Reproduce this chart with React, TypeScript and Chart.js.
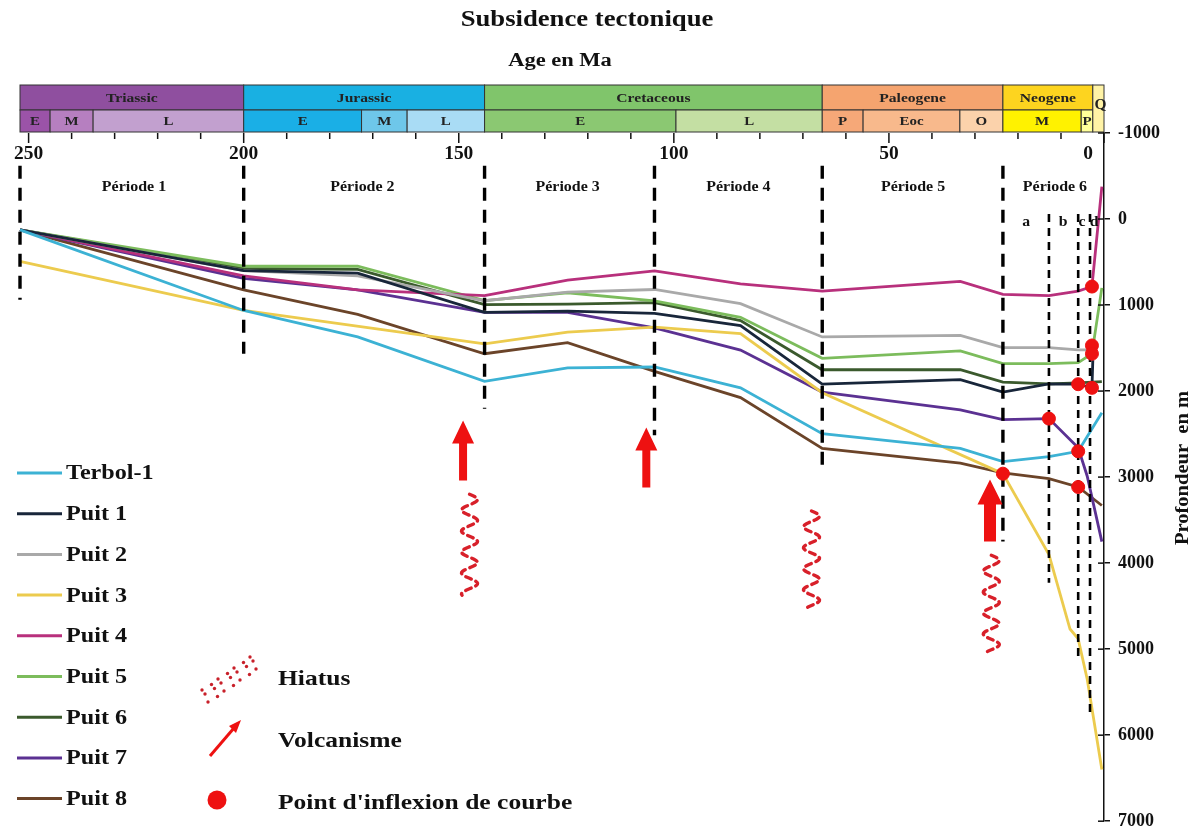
import React, { useEffect, useRef } from "react";
import { Chart, registerables } from "chart.js";
Chart.register(...registerables);

// ---------- data ----------
const ages = [252, 200, 173.5, 144, 124.7, 104.5, 84.5, 65.5, 33.4, 23.5, 12.8, 7.9, 6.0, 3.9, 2.8, 2.6, 0.5];
const seriesNames = ["Terbol-1", "Puit 1", "Puit 2", "Puit 3", "Puit 4", "Puit 5", "Puit 6", "Puit 7", "Puit 8"];
const terbol1 = [126, 1063, 1371, 1886, 1730, 1720, 1962, 2495, 2667, 2819, 2762, null, 2700, null, null, null, 2251];
const puit1 = [126, 600, 629, 1086, 1070, 1097, 1238, 1920, 1867, 2011, 1917, null, 1920, null, 1962, 1640, null];
const puit2 = [126, 600, 660, 950, 850, 819, 983, 1371, 1352, 1494, 1494, null, 1520, 1520, 1470, null, null];
const puit3 = [491, 1063, null, 1451, 1314, 1257, 1333, 2019, null, 2960, 3900, 4766, 4880, 5350, null, null, 6400];
const puit4 = [126, 660, 823, 891, 709, 602, 754, 838, 724, 876, 891, null, 838, null, 785, null, -377];
const puit5 = [126, 549, 549, 949, 857, 952, 1143, 1619, 1533, 1680, 1680, null, 1669, null, 1566, null, 800];
const puit6 = [126, 575, 585, 994, 990, 971, 1181, 1752, 1752, 1897, 1917, null, 1905, null, null, null, 1890];
const puit7 = [126, 690, 823, 1086, 1086, 1265, 1524, 2011, 2219, 2331, 2320, null, 2660, 2990, null, null, 3750];
const puit8 = [126, 823, 1109, 1566, 1437, 1771, 2076, 2667, 2838, 2950, 3017, null, 3115, null, null, null, 3330];
const seriesValues = [terbol1, puit1, puit2, puit3, puit4, puit5, puit6, puit7, puit8];
const seriesColors = ["#3cb2d4", "#18263a", "#a9a9a9", "#eccb4e", "#b8307c", "#7cbc5c", "#3b5a2d", "#5b3192", "#6b4429"];

// period boundaries (Ma) and dashed-line extents (m)
const periodAges = [252, 200, 144, 104.5, 65.5, 23.5];
const periodTop = -620;
const periodBottom = [937, 1566, 2206, 2514, 2880, 3749];
const periodLabels = ["Période 1", "Période 2", "Période 3", "Période 4", "Période 5", "Période 6"];
const periodLabelAges = [225.5, 172.4, 124.7, 85, 44.4, 11.4];
const periodLabelDepth = -366;

const subAges = [12.8, 6.0, 3.25];
const subTop = -57;
const subBottom = [4229, 5086, 5749];
const subLabels = ["a", "b", "c", "d"];
const subLabelAges = [18.1, 9.5, 5.1, 2.3];
const subLabelDepth = 40;

// inflection points
const inflexAges = [23.5, 12.8, 6.0, 6.0, 6.0, 2.8, 2.8, 2.8, 2.8];
const inflexDepths = [2960, 2320, 2700, 3115, 1920, 1962, 1470, 1566, 785];

// volcanism arrows and hiatus marks
const volcAges = [149, 106.4, 26.5];
const volcTipDepths = [2343, 2423, 3029];
const hiatusAges = [147.5, 68, 26.2];
const hiatusTop = [3200, 3394, 3909];
const hiatusBottom = [4377, 4549, 5063];

// geological time scale
const eraNames = ["Triassic", "Jurassic", "Cretaceous", "Paleogene", "Neogene"];
const eraStart = [252, 200, 144, 65.5, 23.5];
const eraEnd = [200, 144, 65.5, 23.5, 2.6];
const eraColors = ["#8f4f9f", "#19b0e2", "#80c56b", "#f5a46f", "#fdd41f"];
const epochNames = ["E", "M", "L", "E", "M", "L", "E", "L", "P", "Eoc", "O", "M", "P"];
const epochStart = [252, 245, 235, 200, 172.6, 162, 144, 99.5, 65.5, 56, 33.5, 23.5, 5.3];
const epochEnd = [245, 235, 200, 172.6, 162, 144, 99.5, 65.5, 56, 33.5, 23.5, 5.3, 2.6];
const epochColors = ["#9b53a8", "#b67fc0", "#c2a0cf", "#1aafe6", "#6ec7ea", "#a9dcf5", "#8bc872", "#c4dfa3", "#f6a878", "#f8b98c", "#fbd2ab", "#fff200", "#ffff99"];
const quatName = "Q";
const quatStart = 2.6;
const quatEnd = 0;
const quatColor = "#fff3a6";

const xTickLabels = [250, 200, 150, 100, 50, 0];
const xMinorStep = 10;

const FONT = '"Liberation Serif", "DejaVu Serif", serif';
const bf = (s: number) => `bold ${s}px ${FONT}`;

const overlay = {
  id: "overlay",
  beforeDraw(chart: any) {
    const { ctx, width, height } = chart;
    ctx.save();
    ctx.fillStyle = "#ffffff";
    ctx.fillRect(0, 0, width, height);
    ctx.restore();
  },
  afterDraw(chart: any) {
    const { ctx, chartArea: ca } = chart;
    const xs = chart.scales.x;
    const ys = chart.scales.y;
    const X = (a: number) => xs.getPixelForValue(a);
    const Y = (d: number) => ys.getPixelForValue(d);
    const txt = (s: string, x: number, y: number, size: number, sx: number, align: string = "center", color = "#111") => {
      ctx.save();
      ctx.translate(x, y);
      ctx.scale(sx, 1);
      ctx.font = bf(size);
      ctx.fillStyle = color;
      ctx.textAlign = align;
      ctx.textBaseline = "middle";
      ctx.fillText(s, 0, 0);
      ctx.restore();
    };
    ctx.save();

    // titles
    txt("Subsidence tectonique", 587, 20, 23, 1.16);
    txt("Age en Ma", 560, 61, 18, 1.25);

    // time scale band
    const t0 = ca.top - 48, t1 = ca.top - 23, t2 = ca.top - 1;
    ctx.lineWidth = 1;
    ctx.strokeStyle = "#333";
    eraNames.forEach((n, i) => {
      const a = X(eraStart[i]), b = X(eraEnd[i]);
      ctx.fillStyle = eraColors[i];
      ctx.fillRect(a, t0, b - a, t1 - t0);
      ctx.strokeRect(a, t0, b - a, t1 - t0);
      txt(n, (a + b) / 2, (t0 + t1) / 2 + 1, 13, 1.2, "center", "#222");
    });
    epochNames.forEach((n, i) => {
      const a = X(epochStart[i]), b = X(epochEnd[i]);
      ctx.fillStyle = epochColors[i];
      ctx.fillRect(a, t1, b - a, t2 - t1);
      ctx.strokeRect(a, t1, b - a, t2 - t1);
      txt(n, (a + b) / 2, (t1 + t2) / 2 + 1, 13, 1.15, "center", "#222");
    });
    {
      const a = X(quatStart), b = X(quatEnd);
      ctx.fillStyle = quatColor;
      ctx.fillRect(a, t0, b - a, t2 - t0);
      ctx.strokeRect(a, t0, b - a, t2 - t0);
      txt(quatName, (a + b) / 2 + 2, t0 + 20, 14, 1.1, "center", "#222");
    }

    // x ticks and labels
    ctx.strokeStyle = "#111";
    ctx.lineWidth = 1.5;
    for (let v = 250; v >= 0; v -= xMinorStep) {
      const px = X(v);
      const major = v % 50 === 0;
      ctx.beginPath();
      ctx.moveTo(px, ca.top);
      ctx.lineTo(px, ca.top + (major ? 10 : 6));
      ctx.stroke();
    }
    xTickLabels.forEach((v) => {
      txt(String(v), X(v) - (v === 0 ? 16 : 0), ca.top + 21, 18, 1.08);
    });

    // y inner ticks
    ctx.strokeStyle = "#111";
    ctx.lineWidth = 1.5;
    for (let v = -1000; v <= 7000; v += 1000) {
      ctx.beginPath();
      ctx.moveTo(ca.right - 6, Y(v));
      ctx.lineTo(ca.right, Y(v));
      ctx.stroke();
    }

    // period labels
    periodLabels.forEach((l, i) => txt(l, X(periodLabelAges[i]), Y(periodLabelDepth), 14, 1.14));
    subLabels.forEach((l, i) => txt(l, X(subLabelAges[i]), Y(subLabelDepth), 15, 1.05));

    // volcanism arrows
    const arrow = (cx: number, tip: number, hw: number, hh: number, sw: number, len: number) => {
      ctx.beginPath();
      ctx.moveTo(cx, tip);
      ctx.lineTo(cx + hw / 2, tip + hh);
      ctx.lineTo(cx + sw / 2, tip + hh);
      ctx.lineTo(cx + sw / 2, tip + len);
      ctx.lineTo(cx - sw / 2, tip + len);
      ctx.lineTo(cx - sw / 2, tip + hh);
      ctx.lineTo(cx - hw / 2, tip + hh);
      ctx.closePath();
      ctx.fill();
    };
    ctx.fillStyle = "#ee1111";
    volcAges.forEach((a, i) => {
      const big = i === 2;
      arrow(X(a), Y(volcTipDepths[i]), big ? 25 : 22, big ? 25 : 23, big ? 12 : 8, big ? 62 : 60);
    });

    // hiatus wavy marks
    ctx.strokeStyle = "#d8202a";
    ctx.lineWidth = 3.4;
    ctx.lineCap = "round";
    ctx.setLineDash([6, 5]);
    hiatusAges.forEach((a, i) => {
      const cx = X(a), y0 = Y(hiatusTop[i]), y1 = Y(hiatusBottom[i]);
      ctx.beginPath();
      for (let yy = y0; yy <= y1; yy += 1) {
        const px = cx + 8 * Math.sin(((yy - y0) / 21) * 2 * Math.PI);
        if (yy === y0) ctx.moveTo(px, yy);
        else ctx.lineTo(px, yy);
      }
      ctx.stroke();
    });
    ctx.setLineDash([]);
    ctx.lineCap = "butt";

    // series legend
    chart.data.datasets.slice(0, seriesNames.length).forEach((ds: any, i: number) => {
      const yy = 473 + i * 40.7;
      ctx.strokeStyle = ds.borderColor;
      ctx.lineWidth = 3;
      ctx.beginPath();
      ctx.moveTo(17, yy);
      ctx.lineTo(62, yy);
      ctx.stroke();
      txt(ds.label, 66, yy + 1, 21, 1.15, "left");
    });

    // symbols legend
    ctx.fillStyle = "#c8202a";
    for (let i = 0; i < 7; i++) {
      for (let j = 0; j < 3; j++) {
        const px = 202 + i * 8 + j * 3 + (i % 2) * 1.5;
        const py = 690 - i * 5.5 + j * 6 - (j % 2) * 2;
        ctx.beginPath();
        ctx.arc(px, py, 1.7, 0, Math.PI * 2);
        ctx.fill();
      }
    }
    ctx.strokeStyle = "#ee1111";
    ctx.fillStyle = "#ee1111";
    ctx.lineWidth = 3;
    ctx.beginPath();
    ctx.moveTo(210, 756);
    ctx.lineTo(234, 728);
    ctx.stroke();
    ctx.beginPath();
    ctx.moveTo(241, 720);
    ctx.lineTo(229, 726);
    ctx.lineTo(236, 733);
    ctx.closePath();
    ctx.fill();
    ctx.beginPath();
    ctx.arc(217, 800, 9.5, 0, Math.PI * 2);
    ctx.fill();

    txt("Hiatus", 278, 679, 22, 1.16, "left");
    txt("Volcanisme", 278, 741, 22, 1.16, "left");
    txt("Point d'inflexion de courbe", 278, 803, 22, 1.16, "left");

    // y title
    ctx.save();
    ctx.translate(1183, 468);
    ctx.rotate(-Math.PI / 2);
    ctx.scale(1.14, 1);
    ctx.textAlign = "center";
    ctx.textBaseline = "middle";
    ctx.fillStyle = "#111";
    ctx.font = bf(18);
    ctx.fillText("Profondeur  en m", 0, 0);
    ctx.restore();

    ctx.restore();
  },
};

export default function App() {
  const ref = useRef<HTMLCanvasElement | null>(null);
  useEffect(() => {
    if (!ref.current) return;
    const datasets: any[] = [];
    seriesNames.forEach((name, i) => {
      const pts: any[] = [];
      ages.forEach((a, k) => {
        const v = seriesValues[i][k];
        if (v !== null && v !== undefined) pts.push({ x: a, y: v });
      });
      datasets.push({
        type: "line",
        label: name,
        data: pts,
        borderColor: seriesColors[i],
        backgroundColor: seriesColors[i],
        borderWidth: 2.8,
        pointRadius: 0,
        tension: 0,
        clip: false,
        order: 3,
      });
    });
    periodAges.forEach((a, i) => {
      datasets.push({
        type: "line",
        label: "period",
        data: [{ x: a, y: periodTop }, { x: a, y: periodBottom[i] }],
        borderColor: "#000",
        borderWidth: 3.4,
        borderDash: [13, 9],
        pointRadius: 0,
        clip: false,
        order: 2,
      });
    });
    subAges.forEach((a, i) => {
      datasets.push({
        type: "line",
        label: "sub",
        data: [{ x: a, y: subTop }, { x: a, y: subBottom[i] }],
        borderColor: "#000",
        borderWidth: 2.6,
        borderDash: [8, 6],
        pointRadius: 0,
        clip: false,
        order: 2,
      });
    });
    datasets.push({
      type: "scatter",
      label: "inflexion",
      data: inflexAges.map((a, i) => ({ x: a, y: inflexDepths[i] })),
      backgroundColor: "#ee1111",
      borderColor: "#ee1111",
      pointRadius: 6.5,
      clip: false,
      order: 1,
    });

    const chart = new Chart(ref.current, {
      type: "line",
      data: { datasets },
      options: {
        animation: false,
        responsive: false,
        maintainAspectRatio: false,
        layout: { padding: { left: 20, right: 0, top: 133, bottom: 7 } },
        plugins: { legend: { display: false }, tooltip: { enabled: false }, title: { display: false } },
        scales: {
          x: { type: "linear", reverse: true, min: 0, max: 252, display: false },
          y: {
            type: "linear",
            position: "right",
            reverse: true,
            min: -1000,
            max: 7000,
            ticks: {
              stepSize: 1000,
              color: "#111",
              padding: 8,
              font: { family: FONT, weight: "bold", size: 18 },
              callback: (v: any) => String(v),
            },
            grid: { drawOnChartArea: false, drawTicks: true, tickLength: 6, color: "#111", lineWidth: 1.5 },
            border: { display: true, color: "#111", width: 1.5 },
            afterFit: (s: any) => {
              s.width = 91;
            },
          },
        },
      } as any,
      plugins: [overlay],
    });
    return () => chart.destroy();
  }, []);
  return (
    <div style={{ position: "absolute", left: 0, top: 0, width: 1195, height: 840 }}>
      <canvas ref={ref} width={1195} height={840} style={{ width: 1195, height: 840, display: "block" }} />
    </div>
  );
}
